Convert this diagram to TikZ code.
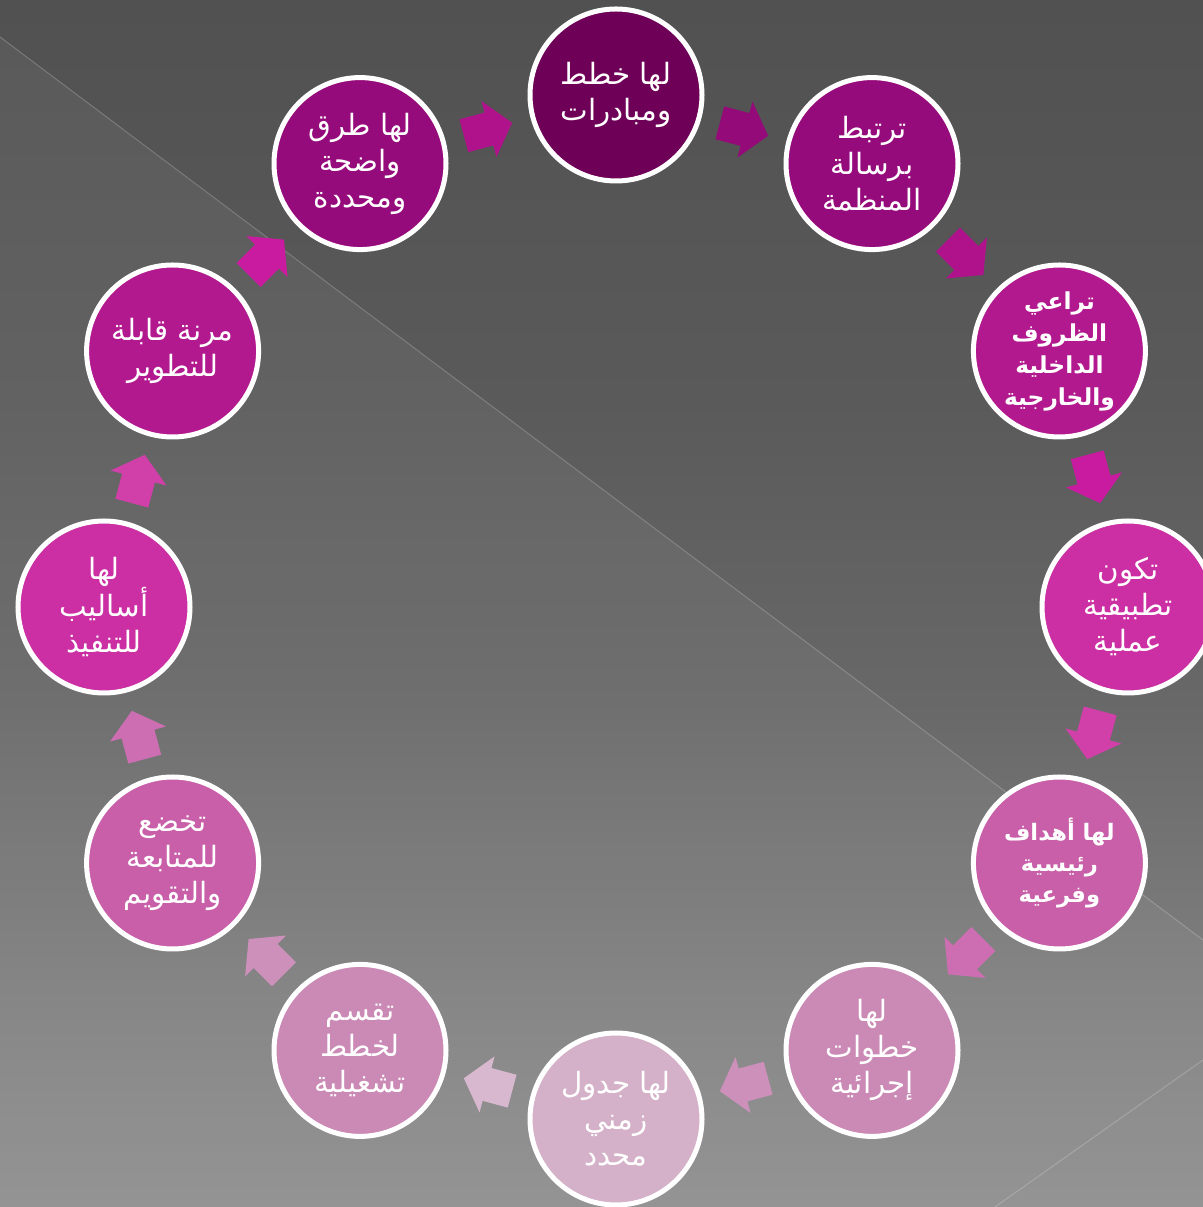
\documentclass[tikz,border=0pt]{standalone}
\usepackage{fontspec}
\newfontfamily\arabicfont[Script=Arabic]{DejaVu Sans}
\TeXXeTstate=1
\usetikzlibrary{calc}
\newcommand{\ar}[1]{\beginR #1\endR}
\definecolor{bgA}{HTML}{8F8F8F}
\definecolor{bgB}{HTML}{808080}
\definecolor{bgC}{HTML}{686868}
\definecolor{bgD}{HTML}{5A5A5A}
\definecolor{bgE}{HTML}{515151}
\pgfdeclareverticalshading{bgshade}{100bp}{color(0bp)=(bgA); color(25bp)=(bgA); color(33.6bp)=(bgB); color(46bp)=(bgC); color(58.4bp)=(bgD); color(75bp)=(bgE); color(100bp)=(bgE)}
\definecolor{c1}{HTML}{6F0058}
\definecolor{c2}{HTML}{960B7B}
\definecolor{c3}{HTML}{B3198E}
\definecolor{c4}{HTML}{CB2FA3}
\definecolor{c5}{HTML}{C85FA8}
\definecolor{c6}{HTML}{CB8AB5}
\definecolor{c7}{HTML}{D4B1C8}
\definecolor{a1}{HTML}{930A78}
\definecolor{a2}{HTML}{B0128C}
\definecolor{a3}{HTML}{C81BA0}
\definecolor{a4}{HTML}{D040A8}
\definecolor{a5}{HTML}{CE6EB2}
\definecolor{a6}{HTML}{CC90BA}
\definecolor{a7}{HTML}{D8B8CE}
\begin{document}
\begin{tikzpicture}[x=0.75pt,y=0.75pt,
  bub/.style={circle, draw=white, line width=3.75pt, minimum size=129pt, inner sep=0pt,
    align=center, text=white, font=\arabicfont\fontsize{22}{27}\selectfont},
  bubsmall/.style={bub, font=\arabicfont\bfseries\fontsize{17.5}{24}\selectfont},
  bubbold/.style={bub, font=\arabicfont\bfseries\fontsize{17}{23.5}\selectfont}]
\useasboundingbox (0,0) rectangle (1203,1207);
\shade[shading=bgshade] (0,0) rectangle (1203,1207);
\fill[white, opacity=0.05] (0,1170) -- (1203,267) -- (1203,0) -- (0,0) -- cycle;
\draw[white, opacity=0.2, line width=0.75pt] (0,1170) -- (1203,267);
\draw[white, opacity=0.2, line width=0.75pt] (995,0) -- (1203,147);
\coordinate (C) at (616,600);
\node[bub, fill=c1] (n1) at ($(C)+(90:512)$) {\ar{لها خطط}\\\ar{ومبادرات}};
\node[bub, fill=c2] (n2) at ($(C)+(60:512)$) {\ar{ترتبط}\\\ar{برسالة}\\\ar{المنظمة}};
\node[bubsmall, fill=c3] (n3) at ($(C)+(30:512)$) {\ar{تراعي}\\\ar{الظروف}\\\ar{الداخلية}\\\ar{والخارجية}};
\node[bub, fill=c4] (n4) at ($(C)+(0:512)$) {\ar{تكون}\\\ar{تطبيقية}\\\ar{عملية}};
\node[bubbold, fill=c5] (n5) at ($(C)+(-30:512)$) {\ar{لها أهداف}\\\ar{رئيسية}\\\ar{وفرعية}};
\node[bub, fill=c6] (n6) at ($(C)+(-60:512)$) {\ar{لها}\\\ar{خطوات}\\\ar{إجرائية}};
\node[bub, fill=c7] (n7) at ($(C)+(-90:512)$) {\ar{لها جدول}\\\ar{زمني}\\\ar{محدد}};
\node[bub, fill=c6] (n8) at ($(C)+(-120:512)$) {\ar{تقسم}\\\ar{لخطط}\\\ar{تشغيلية}};
\node[bub, fill=c5] (n9) at ($(C)+(-150:512)$) {\ar{تخضع}\\\ar{للمتابعة}\\\ar{والتقويم}};
\node[bub, fill=c4] (n10) at ($(C)+(180:512)$) {\ar{لها}\\\ar{أساليب}\\\ar{للتنفيذ}};
\node[bub, fill=c3] (n11) at ($(C)+(150:512)$) {\ar{مرنة قابلة}\\\ar{للتطوير}};
\node[bub, fill=c2] (n12) at ($(C)+(120:512)$) {\ar{لها طرق}\\\ar{واضحة}\\\ar{ومحددة}};
\foreach \p/\q/\ang/\col in {n1/n2/-15/a1, n2/n3/-45/a2, n3/n4/-75/a3, n4/n5/-105/a4,
  n5/n6/-135/a5, n6/n7/-165/a6, n7/n8/-195/a7, n8/n9/-225/a6, n9/n10/-255/a5,
  n10/n11/-285/a4, n11/n12/-315/a3, n12/n1/-345/a2}
  \fill[\col, shift={($(\p)!0.5!(\q)$)}, rotate=\ang]
    (-25,-17) -- (1,-17) -- (1,-29) -- (25,0) -- (1,29) -- (1,17) -- (-25,17) -- cycle;
\end{tikzpicture}
\end{document}
